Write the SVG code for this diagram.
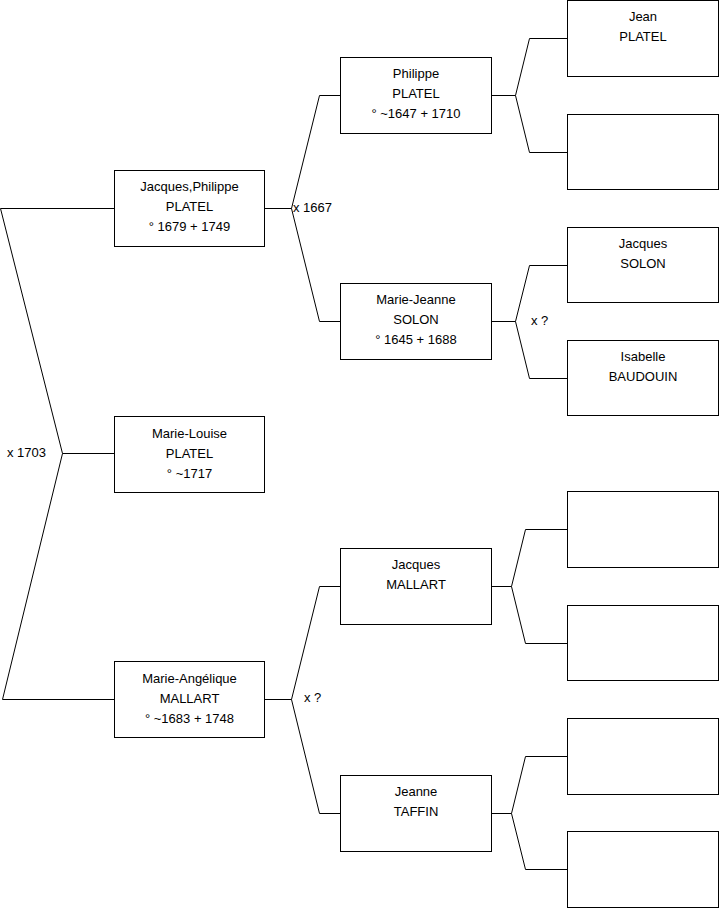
<svg xmlns="http://www.w3.org/2000/svg" width="719" height="908" viewBox="0 0 719 908">
<style>
.box{fill:#fff;stroke:#000;stroke-width:1}
.ln{fill:none;stroke:#000;stroke-width:1}
text{font-family:"Liberation Sans",Arial,sans-serif;font-size:13px;fill:#000}
.c{text-anchor:middle}
</style>
<rect width="719" height="908" fill="#fff"/>
<g id="connectors">
<polyline class="ln" points="114.5,208.5 0.5,208.5 62.5,453.5 2.5,699.5 114.5,699.5"/>
<line class="ln" x1="62.5" y1="453.5" x2="114.5" y2="453.5"/>
<polyline class="ln" points="340.5,95.5 319.5,95.5 291.5,208.5 319.5,321.5 340.5,321.5"/>
<line class="ln" x1="264.5" y1="208.5" x2="291.5" y2="208.5"/>
<polyline class="ln" points="340.5,586.5 319.5,586.5 291.5,699.5 319.5,813.5 340.5,813.5"/>
<line class="ln" x1="264.5" y1="699.5" x2="291.5" y2="699.5"/>
<polyline class="ln" points="567.5,38.5 529.5,38.5 515.5,95.5 529.5,152.5 567.5,152.5"/>
<line class="ln" x1="491.5" y1="95.5" x2="515.5" y2="95.5"/>
<polyline class="ln" points="567.5,265.5 529.5,265.5 515.5,321.5 529.5,378.5 567.5,378.5"/>
<line class="ln" x1="491.5" y1="321.5" x2="515.5" y2="321.5"/>
<polyline class="ln" points="567.5,529.5 525.5,529.5 511.5,586.5 525.5,643.5 567.5,643.5"/>
<line class="ln" x1="491.5" y1="586.5" x2="511.5" y2="586.5"/>
<polyline class="ln" points="567.5,756.5 525.5,756.5 511.5,813.5 525.5,869.5 567.5,869.5"/>
<line class="ln" x1="491.5" y1="813.5" x2="511.5" y2="813.5"/>
<text x="7" y="457">x 1703</text>
<text x="293" y="212">x 1667</text>
<text x="531" y="325">x ?</text>
<text x="304" y="702">x ?</text>
</g>
<g id="jacques-philippe-platel">
<rect class="box" x="114.5" y="170.5" width="150" height="76"/>
<text class="c" x="189.5" y="190.5">Jacques,Philippe</text>
<text class="c" x="189.5" y="210.5">PLATEL</text>
<text class="c" x="189.5" y="230.5">° 1679 + 1749</text>
</g>
<g id="marie-louise-platel">
<rect class="box" x="114.5" y="416.5" width="150" height="76"/>
<text class="c" x="189.5" y="437.5">Marie-Louise</text>
<text class="c" x="189.5" y="457.5">PLATEL</text>
<text class="c" x="189.5" y="477.5">° ~1717</text>
</g>
<g id="marie-angelique-mallart">
<rect class="box" x="114.5" y="661.5" width="150" height="76"/>
<text class="c" x="189.5" y="682.5">Marie-Angélique</text>
<text class="c" x="189.5" y="702.5">MALLART</text>
<text class="c" x="189.5" y="722.5">° ~1683 + 1748</text>
</g>
<g id="philippe-platel">
<rect class="box" x="340.5" y="57.5" width="151" height="76"/>
<text class="c" x="416" y="77.5">Philippe</text>
<text class="c" x="416" y="97.5">PLATEL</text>
<text class="c" x="416" y="117.5">° ~1647 + 1710</text>
</g>
<g id="marie-jeanne-solon">
<rect class="box" x="340.5" y="283.5" width="151" height="76"/>
<text class="c" x="416" y="303.5">Marie-Jeanne</text>
<text class="c" x="416" y="323.5">SOLON</text>
<text class="c" x="416" y="343.5">° 1645 + 1688</text>
</g>
<g id="jacques-mallart">
<rect class="box" x="340.5" y="548.5" width="151" height="76"/>
<text class="c" x="416" y="568.5">Jacques</text>
<text class="c" x="416" y="588.5">MALLART</text>
</g>
<g id="jeanne-taffin">
<rect class="box" x="340.5" y="775.5" width="151" height="76"/>
<text class="c" x="416" y="795.5">Jeanne</text>
<text class="c" x="416" y="815.5">TAFFIN</text>
</g>
<g id="jean-platel">
<rect class="box" x="567.5" y="0.5" width="151" height="76"/>
<text class="c" x="643" y="20.5">Jean</text>
<text class="c" x="643" y="40.5">PLATEL</text>
</g>
<g id="unknown-1">
<rect class="box" x="567.5" y="114.5" width="151" height="75"/>
</g>
<g id="jacques-solon">
<rect class="box" x="567.5" y="227.5" width="151" height="75"/>
<text class="c" x="643" y="247.5">Jacques</text>
<text class="c" x="643" y="267.5">SOLON</text>
</g>
<g id="isabelle-baudouin">
<rect class="box" x="567.5" y="340.5" width="151" height="75"/>
<text class="c" x="643" y="360.5">Isabelle</text>
<text class="c" x="643" y="380.5">BAUDOUIN</text>
</g>
<g id="unknown-2">
<rect class="box" x="567.5" y="491.5" width="151" height="76"/>
</g>
<g id="unknown-3">
<rect class="box" x="567.5" y="605.5" width="151" height="75"/>
</g>
<g id="unknown-4">
<rect class="box" x="567.5" y="718.5" width="151" height="76"/>
</g>
<g id="unknown-5">
<rect class="box" x="567.5" y="831.5" width="151" height="76"/>
</g>
</svg>
